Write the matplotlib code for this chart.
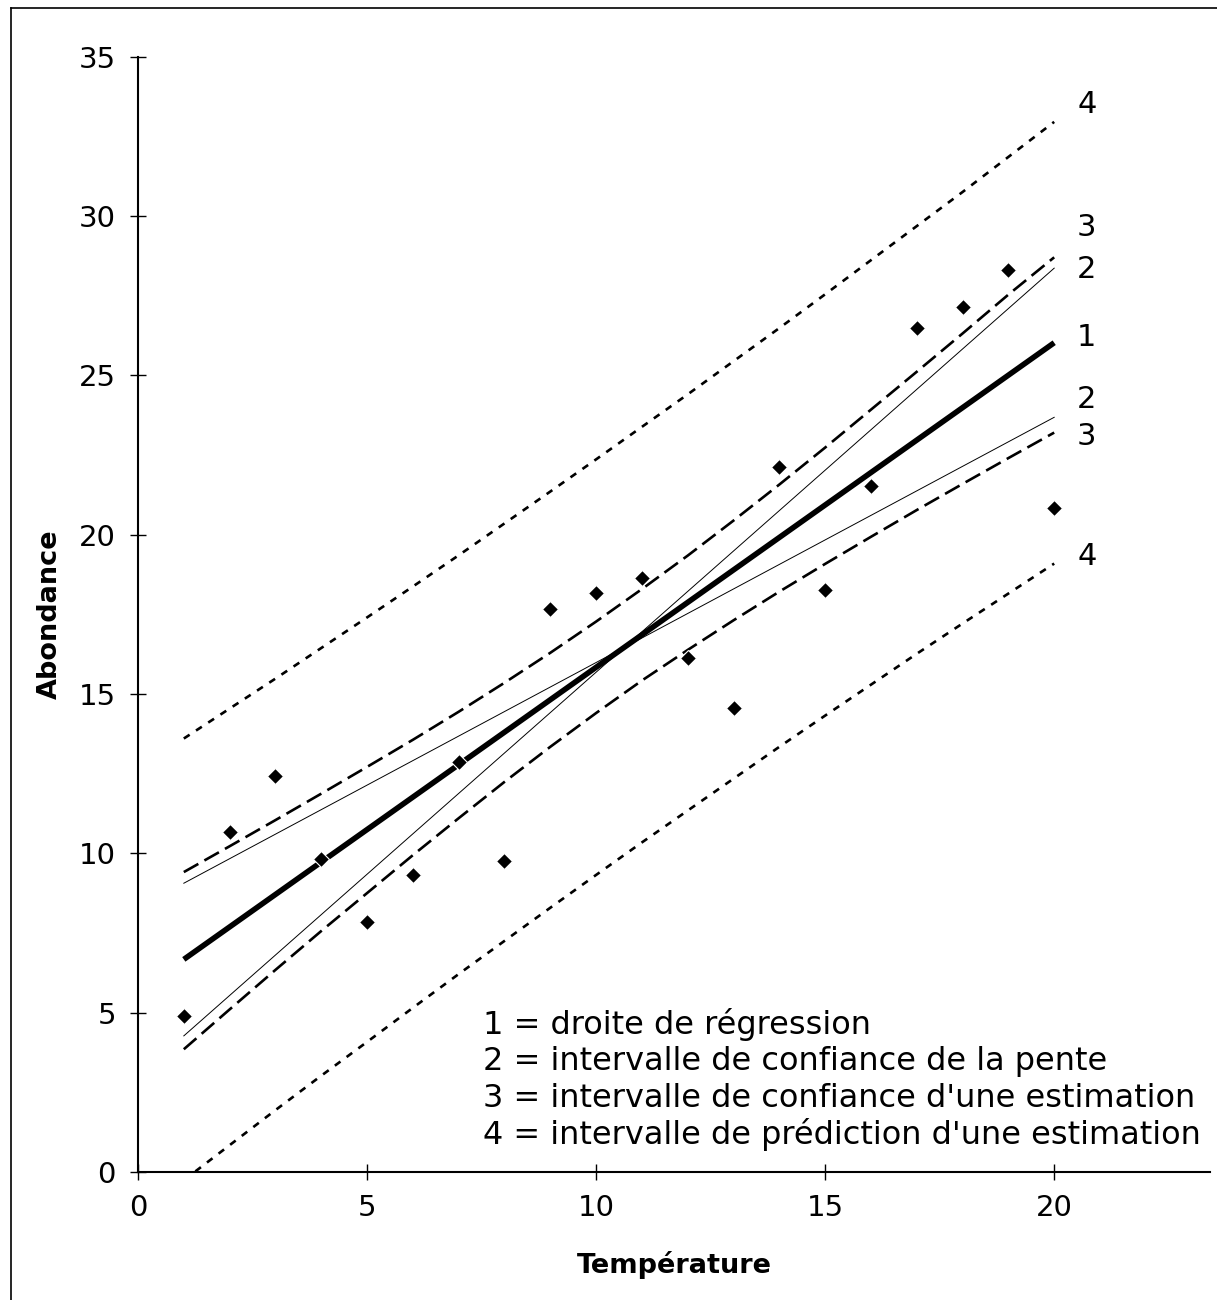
import matplotlib.pyplot as plt
from matplotlib.lines import Line2D

plt.rcParams['font.family'] = ['DejaVu Sans']
plt.rcParams['lines.scale_dashes'] = False

# observations
temperature = list(range(1, 21))
abondance = [4.90, 10.68, 12.44, 9.82, 7.83, 9.32, 12.87, 9.76, 17.66, 18.16,
             18.65, 16.12, 14.55, 22.11, 18.25, 21.51, 26.48, 27.14, 28.31, 20.83]

# 1 = droite de régression
droite_x = [1, 20]
droite_y = [6.67, 26.02]

# 2 = intervalle de confiance de la pente (droites passant par le centre)
pente_x = [1, 20]
pente_a = [4.27, 28.36]
pente_b = [9.06, 23.68]

# 3 = intervalle de confiance d'une estimation
estim_haut = [9.41, 10.22, 11.04, 11.87, 12.71, 13.56, 14.44, 15.35, 16.29, 17.27,
              18.29, 19.34, 20.44, 21.57, 22.73, 23.92, 25.11, 26.31, 27.53, 28.70]
estim_bas = [3.85, 5.10, 6.34, 7.56, 8.75, 9.94, 11.10, 12.24, 13.34, 14.40,
             15.42, 16.38, 17.31, 18.21, 19.08, 19.93, 20.77, 21.59, 22.40, 23.20]

# 4 = intervalle de prédiction d'une estimation
predic_haut = [13.60, 14.54, 15.48, 16.44, 17.40, 18.37, 19.35, 20.35, 21.35, 22.36,
               23.38, 24.40, 25.44, 26.48, 27.54, 28.61, 29.68, 30.75, 31.85, 32.95]
predic_bas = [-0.26, 0.84, 1.94, 3.02, 4.08, 5.15, 6.21, 7.25, 8.29, 9.32,
              10.34, 11.34, 12.34, 13.34, 14.32, 15.29, 16.26, 17.21, 18.15, 19.09]

# étiquettes en bout de courbe
etiquettes = ['4', '3', '2', '1', '2', '3', '4']
etiquettes_y = [33.49, 29.63, 28.31, 26.18, 24.23, 23.07, 19.30]

legende = ['1 = droite de régression',
           '2 = intervalle de confiance de la pente',
           "3 = intervalle de confiance d'une estimation",
           "4 = intervalle de prédiction d'une estimation"]

fig = plt.figure(figsize=(12.17, 13.0), dpi=100)
ax = fig.add_axes([0.1134, 0.0985, 0.8808, 0.858])

ax.plot(temperature, predic_haut, color='black', lw=1.9, ls=(0, (5, 5.5)))
ax.plot(temperature, predic_bas, color='black', lw=1.9, ls=(0, (5, 5.5)))
ax.plot(temperature, estim_haut, color='black', lw=1.9, ls=(0, (12, 5)))
ax.plot(temperature, estim_bas, color='black', lw=1.9, ls=(0, (12, 5)))
ax.plot(pente_x, pente_a, color='black', lw=0.7)
ax.plot(pente_x, pente_b, color='black', lw=0.7)
ax.plot(droite_x, droite_y, color='black', lw=4.0, solid_capstyle='butt')
ax.plot(temperature, abondance, 'D', color='black', ms=8.5, mec='white', mew=0.8)

for lab, y in zip(etiquettes, etiquettes_y):
    ax.text(20.5, y, lab, fontsize=22, ha='left', va='center')

for i, ligne in enumerate(legende):
    ax.text(7.54, 4.62 - i * 1.15, ligne, fontsize=23, ha='left', va='center')

ax.set_xlim(0, 23.4)
ax.set_ylim(0, 35)
ax.set_xticks([0, 5, 10, 15, 20])
ax.set_yticks(range(0, 36, 5))
ax.tick_params(direction='inout', length=12, width=1, labelsize=21, pad=10)
for s in ['top', 'right']:
    ax.spines[s].set_visible(False)
for s in ['left', 'bottom']:
    ax.spines[s].set_linewidth(1.5)

ax.set_xlabel('Température', fontsize=19.5, fontweight='bold', labelpad=21)
ax.set_ylabel('Abondance', fontsize=19.5, fontweight='bold', labelpad=11.5)

# cadre autour de la figure (haut et gauche)
fig.add_artist(Line2D([11 / 1217, 1], [1 - 8 / 1300] * 2, transform=fig.transFigure,
                      color='black', lw=1.2))
fig.add_artist(Line2D([11 / 1217] * 2, [0, 1 - 8 / 1300], transform=fig.transFigure,
                      color='black', lw=1.2))

fig.savefig('out.png', dpi=100)
